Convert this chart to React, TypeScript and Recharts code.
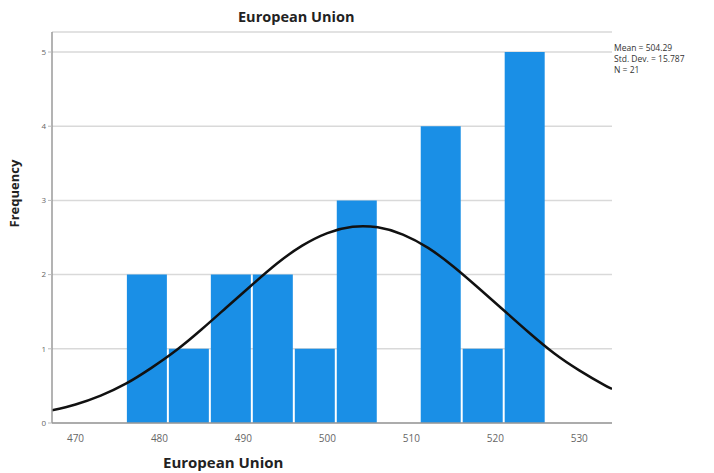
import React from "react";
import {
  Bar,
  CartesianGrid,
  ComposedChart,
  Line,
  XAxis,
  YAxis,
} from "recharts";

// histogram bins (centre of each 5-wide bin) and counts
const binCenters = [478.5, 483.5, 488.5, 493.5, 498.5, 503.5, 508.5, 513.5, 518.5, 523.5];
const binCounts = [2, 1, 2, 2, 1, 3, 0, 4, 1, 5];

// normal curve
const curveX = [
  467.2, 470, 473, 476, 479, 482, 485, 488, 491, 494, 497, 500, 503, 506, 509, 512,
  515, 518, 521, 524, 527, 530, 533, 533.9,
];
const curveY = [
  0.17, 0.25, 0.37, 0.53, 0.74, 0.98, 1.26, 1.56, 1.86, 2.15, 2.39, 2.56, 2.645, 2.637,
  2.54, 2.36, 2.11, 1.82, 1.52, 1.22, 0.94, 0.71, 0.51, 0.46,
];

const xTicks = [470, 480, 490, 500, 510, 520, 530];
const yTicks = [0, 1, 2, 3, 4, 5];
const xDomain: [number, number] = [467.2, 533.9];
const statLines = ["Mean = 504.29", "Std. Dev. = 15.787", "N = 21"];

const bins = binCenters.map((x, i) => ({ x, freq: binCounts[i] }));
const curve = curveX.map((x, i) => ({ x, curve: curveY[i] }));

const font = "'Open Sans', 'DejaVu Sans', sans-serif";

export default function App() {
  return (
    <div
      style={{
        position: "absolute",
        left: 0,
        top: 0,
        width: 714,
        height: 473,
        background: "#fff",
        fontFamily: font,
      }}
    >
      <div
        style={{
          position: "absolute",
          left: 238,
          top: 7,
          fontSize: 14.5,
          fontWeight: 700,
          color: "#222",
        }}
      >
        European Union
      </div>

      <ComposedChart
        width={714}
        height={473}
        data={bins}
        margin={{ top: 32, right: 102, bottom: 0, left: 0 }}
      >
        <CartesianGrid horizontal vertical={false} stroke="#d9d9d9" strokeWidth={1.5} />
        <XAxis
          dataKey="x"
          type="number"
          domain={xDomain}
          ticks={xTicks}
          allowDataOverflow
          height={50}
          tickLine={false}
          axisLine={{ stroke: "#9a9a9a", strokeWidth: 1.5 }}
          tick={{ fontSize: 10, fill: "#666", fontFamily: font }}
          tickMargin={6}
        />
        <XAxis
          xAxisId="curve"
          dataKey="x"
          type="number"
          domain={xDomain}
          allowDataOverflow
          hide
        />
        <YAxis
          type="number"
          domain={[0, 5.27]}
          ticks={yTicks}
          width={52}
          tickSize={4}
          tickLine={{ stroke: "#bbb" }}
          axisLine={{ stroke: "#9a9a9a", strokeWidth: 1.5 }}
          tick={{ fontSize: 8, fill: "#666", fontFamily: font }}
          label={{
            value: "Frequency",
            angle: -90,
            position: "insideLeft",
            offset: 14,
            style: { fontSize: 13, fontWeight: 700, fill: "#222", fontFamily: font },
          }}
        />
        <Bar dataKey="freq" fill="#1a8fe6" barSize={40} isAnimationActive={false} />
        <Line
          xAxisId="curve"
          data={curve}
          dataKey="curve"
          type="natural"
          stroke="#111"
          strokeWidth={2.5}
          dot={false}
          activeDot={false}
          isAnimationActive={false}
        />
      </ComposedChart>

      <div
        style={{
          position: "absolute",
          left: 614,
          top: 42,
          fontSize: 8.5,
          lineHeight: "11px",
          color: "#333",
        }}
      >
        {statLines.map((s) => (
          <div key={s}>{s}</div>
        ))}
      </div>

      <div
        style={{
          position: "absolute",
          left: 163,
          top: 452,
          fontSize: 15,
          fontWeight: 700,
          color: "#222",
        }}
      >
        European Union
      </div>
    </div>
  );
}
